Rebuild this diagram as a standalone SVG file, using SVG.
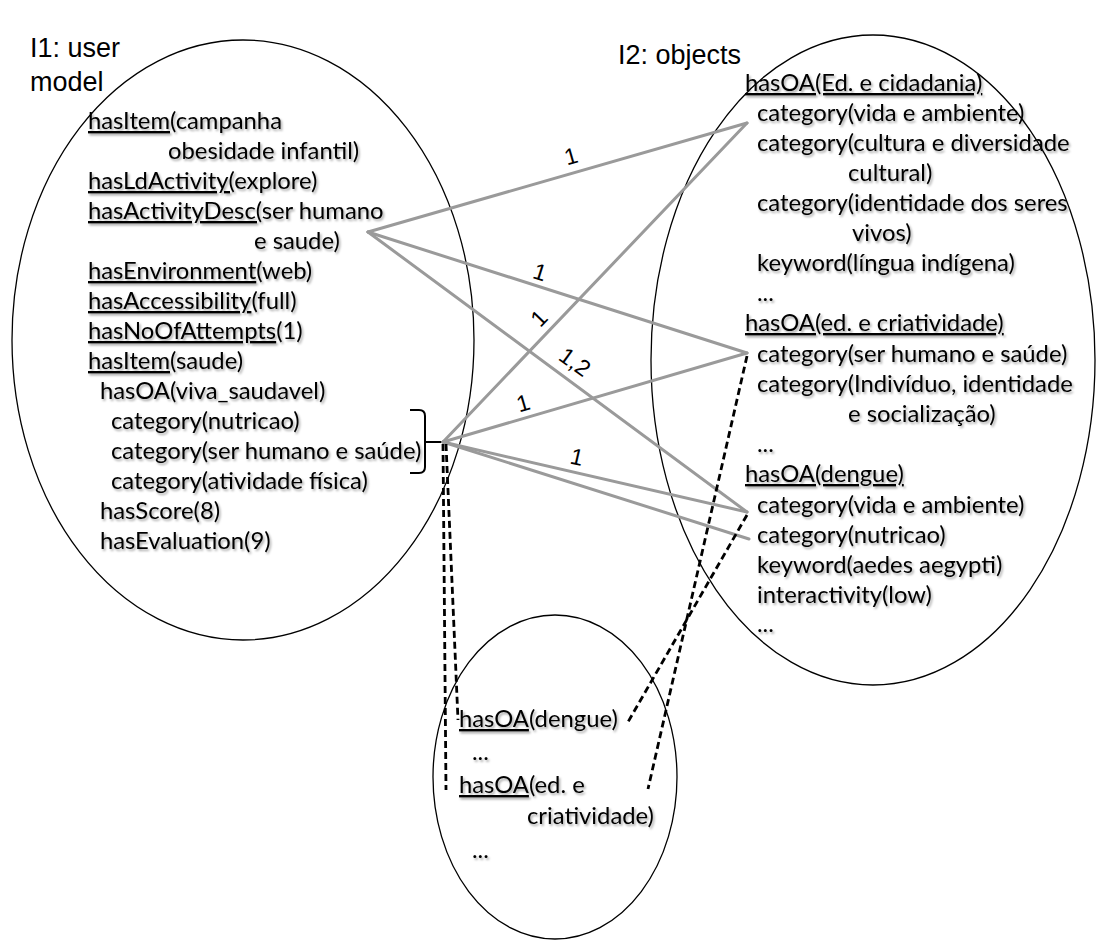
<svg xmlns="http://www.w3.org/2000/svg" width="1097" height="941" viewBox="0 0 1097 941">
  <defs>
    <filter id="soft-shadow" x="-5%" y="-20%" width="110%" height="150%">
      <feDropShadow dx="1.5" dy="2" stdDeviation="1.2" flood-color="#000" flood-opacity="0.35"/>
    </filter>
  </defs>
  <style>
    .set { fill: none; stroke: #000; stroke-width: 1.3; }
    .title { font-family: "Liberation Sans", Arial, sans-serif; font-size: 27px; fill: #000; }
    .item { font-family: Lato, "Open Sans", sans-serif; font-size: 23.8px; fill: #000; }
    .u { text-decoration: underline; }
    .link { fill: none; stroke: #9a9a9a; stroke-width: 3; stroke-linecap: round; stroke-linejoin: round; }
    .match { fill: none; stroke: #000; stroke-width: 2.8; stroke-dasharray: 7 4; }
    .brace { fill: none; stroke: #000; stroke-width: 2; }
    .lbl { font-family: "Liberation Sans", Arial, sans-serif; font-size: 23px; fill: #000; text-anchor: middle; }
  </style>

  <rect width="1097" height="941" fill="#fff"/>

  <!-- I1: user model -->
  <g id="i1-user-model">
    <ellipse class="set" cx="243" cy="340" rx="231" ry="300"/>
    <text class="title" x="30" y="57">I1: user</text>
    <text class="title" x="30" y="91">model</text>
    <path class="brace" d="M410,410 H419 Q425,410 425,416 V442 H443 M425,442 V467 Q425,473 419,473 H410"/>
    <g class="item" filter="url(#soft-shadow)">
      <text x="88" y="129"><tspan class="u">hasItem</tspan>(campanha</text>
      <text x="168" y="159">obesidade infantil)</text>
      <text x="88" y="189"><tspan class="u">hasLdActivity(</tspan>explore)</text>
      <text x="88" y="219"><tspan class="u">hasActivityDesc(</tspan>ser humano</text>
      <text x="254" y="249">e saude)</text>
      <text x="88" y="279"><tspan class="u">hasEnvironment</tspan>(web)</text>
      <text x="88" y="309"><tspan class="u">hasAccessibility</tspan>(full)</text>
      <text x="88" y="339"><tspan class="u">hasNoOfAttempts</tspan>(1)</text>
      <text x="88" y="369"><tspan class="u">hasItem</tspan>(saude)</text>
      <text x="100" y="399">hasOA(viva_saudavel)</text>
      <text x="111" y="429">category(nutricao)</text>
      <text x="111" y="459">category(ser humano e saúde)</text>
      <text x="111" y="489">category(atividade física)</text>
      <text x="100" y="519">hasScore(8)</text>
      <text x="100" y="549">hasEvaluation(9)</text>
    </g>
  </g>

  <!-- I2: objects -->
  <g id="i2-objects">
    <ellipse class="set" cx="873" cy="360" rx="222" ry="325"/>
    <text class="title" x="618" y="64">I2: objects</text>
    <g class="item" filter="url(#soft-shadow)">
      <text x="745" y="91" class="u">hasOA(Ed. e cidadania)</text>
      <text x="757" y="121">category(vida e ambiente)</text>
      <text x="757" y="151">category(cultura e diversidade</text>
      <text x="848" y="181">cultural)</text>
      <text x="757" y="211">category(identidade dos seres</text>
      <text x="852" y="241">vivos)</text>
      <text x="757" y="271">keyword(língua indígena)</text>
      <text x="757" y="301">...</text>
      <text x="745" y="331" class="u">hasOA(ed. e criatividade)</text>
      <text x="757" y="362">category(ser humano e saúde)</text>
      <text x="757" y="392">category(Indivíduo, identidade</text>
      <text x="848" y="422">e socialização)</text>
      <text x="757" y="452">...</text>
      <text x="745" y="482" class="u">hasOA(dengue)</text>
      <text x="757" y="513">category(vida e ambiente)</text>
      <text x="757" y="543">category(nutricao)</text>
      <text x="757" y="573">keyword(aedes aegypti)</text>
      <text x="757" y="603">interactivity(low)</text>
      <text x="757" y="632">...</text>
    </g>
  </g>

  <!-- Recommended objects -->
  <g id="i3-recommendation">
    <ellipse class="set" cx="555" cy="777" rx="122" ry="162"/>
    <g class="item" filter="url(#soft-shadow)">
      <text x="459" y="727"><tspan class="u">hasOA</tspan>(dengue)</text>
      <text x="472" y="760">...</text>
      <text x="459" y="793"><tspan class="u">hasOA</tspan>(ed. e</text>
      <text x="527" y="824">criatividade)</text>
      <text x="472" y="858">...</text>
    </g>
  </g>

  <!-- Connectors -->
  <g id="connectors">
    <!-- activity description to object categories -->
    <line class="link" x1="368" y1="232" x2="747" y2="123"/>
    <line class="link" x1="368" y1="232" x2="747" y2="353"/>
    <line class="link" x1="368" y1="232" x2="747" y2="512"/>
    <!-- grouped categories to object categories -->
    <line class="link" x1="443" y1="442" x2="747" y2="123"/>
    <line class="link" x1="443" y1="442" x2="747" y2="353"/>
    <line class="link" x1="443" y1="442" x2="747" y2="512"/>
    <line class="link" x1="443" y1="442" x2="749" y2="539"/>

    <!-- match counts -->
    <text class="lbl" transform="translate(571,156) rotate(-16)" y="8">1</text>
    <text class="lbl" transform="translate(540,272) rotate(17.5)" y="8">1</text>
    <text class="lbl" transform="translate(539,318) rotate(-46)" y="8">1</text>
    <text class="lbl" transform="translate(575,362) rotate(36)" y="8">1,2</text>
    <text class="lbl" transform="translate(523,403) rotate(-16.5)" y="8">1</text>
    <text class="lbl" transform="translate(577,457) rotate(13)" y="8">1</text>

    <!-- links into the recommendation set -->
    <line class="match" x1="443" y1="444" x2="446" y2="790"/>
    <line class="match" x1="446" y1="444" x2="458" y2="720"/>
    <line class="match" x1="747" y1="356" x2="648" y2="789"/>
    <line class="match" x1="747" y1="515" x2="628" y2="722"/>
  </g>
</svg>
